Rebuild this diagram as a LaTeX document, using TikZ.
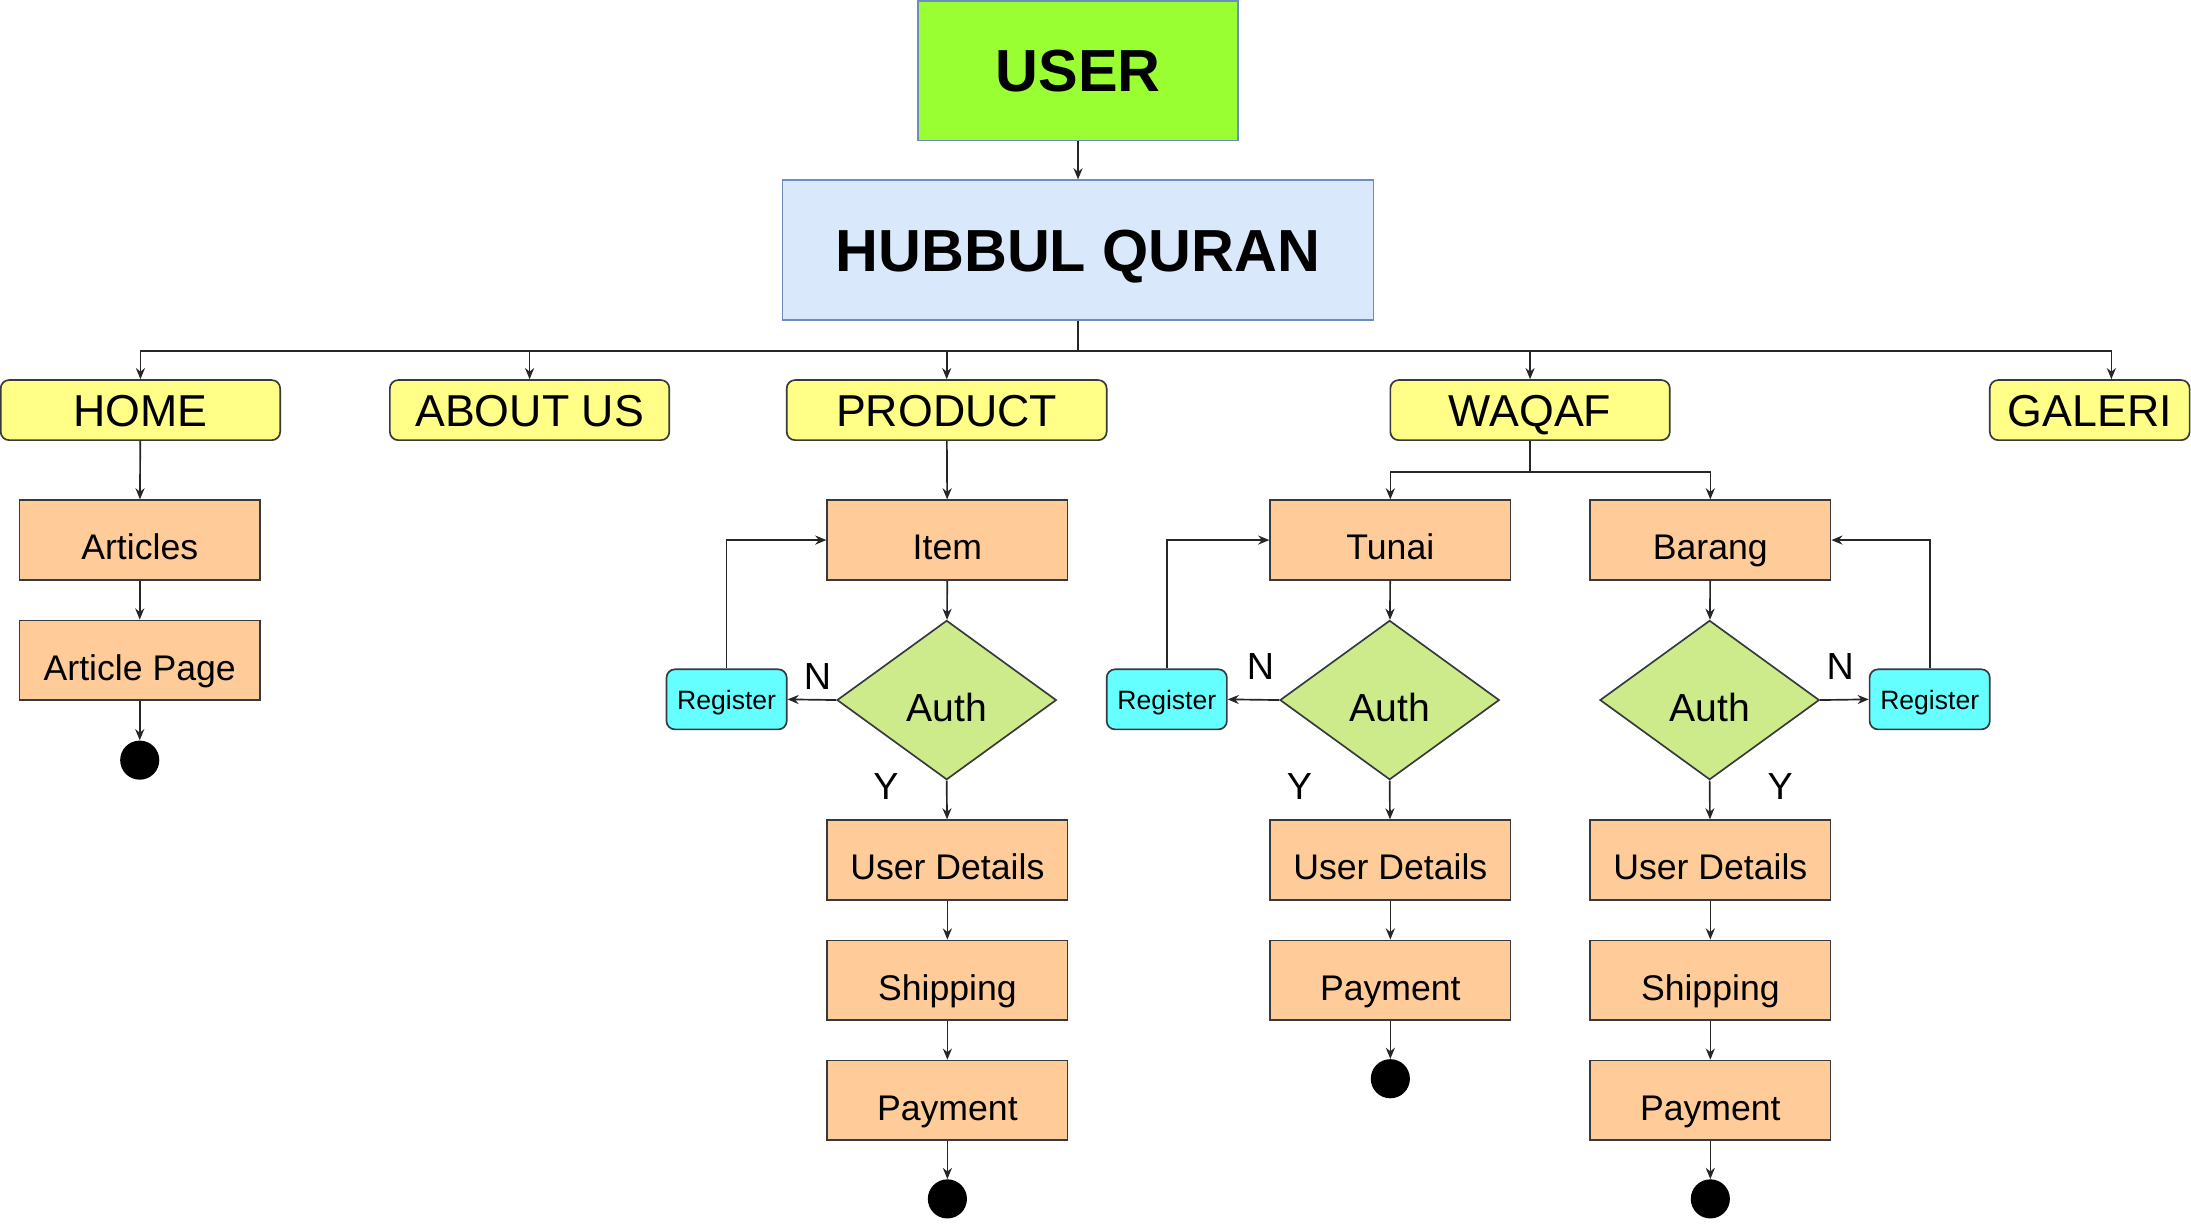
\documentclass[tikz,border=0pt]{standalone}
\usepackage{fontspec}
\setmainfont{Liberation Sans}
\usetikzlibrary{arrows.meta,shapes.geometric}
\definecolor{cgreen}{HTML}{99FF33}
\definecolor{cblue}{HTML}{DAE8FC}
\definecolor{cblueb}{HTML}{6C8EBF}
\definecolor{cyel}{HTML}{FFFF88}
\definecolor{corange}{HTML}{FFCC99}
\definecolor{cdiam}{HTML}{CDEB8B}
\definecolor{ccyan}{HTML}{66FFFF}
\definecolor{cbord}{HTML}{36393D}
\begin{document}
\begin{tikzpicture}[x=1pt,y=-1pt,
  headbox/.style={draw=cblueb,line width=1.2pt,inner sep=0pt,text height=30.4pt,text depth=0pt,font=\fontsize{42.5}{50}\selectfont\bfseries},
  topbox/.style={draw=cbord,fill=cyel,line width=1.2pt,rounded corners=6pt,inner sep=0pt,minimum width=200pt,minimum height=43pt,text height=22.9pt,text depth=0pt,font=\fontsize{32}{38}\selectfont},
  stepbox/.style={draw=cbord,fill=corange,line width=1.2pt,inner sep=0pt,minimum width=172pt,minimum height=57pt,text height=28.3pt,text depth=0pt,font=\fontsize{25.5}{30}\selectfont},
  authbox/.style={draw=cbord,fill=cdiam,line width=1.2pt,diamond,aspect=1.377,inner sep=0pt,minimum width=157pt,minimum height=114pt,text height=30pt,text depth=0pt,font=\fontsize{28}{33}\selectfont},
  regbox/.style={draw=cbord,fill=ccyan,line width=1.2pt,rounded corners=6pt,inner sep=0pt,minimum width=86pt,minimum height=43pt,text height=14.6pt,text depth=0pt,font=\fontsize{19}{23}\selectfont},
  endpt/.style={circle,fill=black,inner sep=0pt,minimum size=28pt},
  yn/.style={inner sep=0pt,font=\fontsize{27}{32}\selectfont},
  arr/.style={draw=black!85,line width=1.2pt,-{Stealth[length=8pt,width=6.5pt]}},
  ln/.style={draw=black!85,line width=1.2pt}]
\useasboundingbox (0,0) rectangle (1568,877);
% header
\node[headbox,fill=cgreen,minimum width=229pt,minimum height=100pt] (user) at (771.5,50.5) {USER};
\node[headbox,fill=cblue,minimum width=423pt,minimum height=100pt] (hq) at (771.5,179) {HUBBUL QURAN};
% top level
\node[topbox] (home) at (100.5,293.5) {HOME};
\node[topbox] (about) at (379,293.5) {ABOUT US};
\node[topbox,minimum width=229pt] (product) at (677.5,293.5) {PRODUCT};
\node[topbox] (waqaf) at (1095,293.5) {WAQAF};
\node[topbox,minimum width=143pt] (galeri) at (1495.5,293.5) {GALERI};
% home column
\node[stepbox] (articles) at (100,386.5) {Articles};
\node[stepbox] (apage) at (100,472.5) {Article Page};
\node[endpt] (end1) at (100,544) {};
% product column
\node[stepbox] (item) at (678,386.5) {Item};
\node[authbox] (auth1) at (677.5,501) {Auth};
\node[regbox] (reg1) at (520,500.5) {Register};
\node[stepbox] (ud1) at (678,615.5) {User Details};
\node[stepbox] (ship1) at (678,701.5) {Shipping};
\node[stepbox] (pay1) at (678,787.5) {Payment};
\node[endpt] (end2) at (678,858) {};
\node[yn] (n1) at (585,484) {N};
\node[yn] (y1) at (634,563) {Y};
% waqaf tunai column
\node[stepbox] (tunai) at (995,386.5) {Tunai};
\node[authbox] (auth2) at (994.5,501) {Auth};
\node[regbox] (reg2) at (835,500.5) {Register};
\node[stepbox] (ud2) at (995,615.5) {User Details};
\node[stepbox] (pay2) at (995,701.5) {Payment};
\node[endpt] (end3) at (995,772) {};
\node[yn] (n2) at (902,477) {N};
\node[yn] (y2) at (930,563) {Y};
% waqaf barang column
\node[stepbox] (barang) at (1224,386.5) {Barang};
\node[authbox] (auth3) at (1223.5,501) {Auth};
\node[regbox] (reg3) at (1381,500.5) {Register};
\node[stepbox] (ud3) at (1224,615.5) {User Details};
\node[stepbox] (ship3) at (1224,701.5) {Shipping};
\node[stepbox] (pay3) at (1224,787.5) {Payment};
\node[endpt] (end4) at (1224,858) {};
\node[yn] (n3) at (1317,477) {N};
\node[yn] (y3) at (1274,563) {Y};
% connectors
\draw[arr] (user) -- (hq);
\coordinate (bus) at (771.5,251);
\draw[ln] (hq.south) -- (bus);
\draw[arr] (bus) -| (home.north);
\draw[arr] (bus) -| (about.north);
\draw[arr] (bus) -| (product.north);
\draw[arr] (bus) -| (waqaf.north);
\draw[arr] (bus) -| ([xshift=15.5pt]galeri.north);
\draw[arr] (home) -- (articles);
\draw[arr] (articles) -- (apage);
\draw[arr] (apage) -- (end1);
\draw[arr] (product) -- (item);
\draw[arr] (item) -- (auth1);
\draw[arr] (auth1.west) -- (reg1.east);
\draw[arr] (reg1.north) |- (item.west);
\draw[arr] (auth1.south) -- (ud1);
\draw[arr] (ud1) -- (ship1);
\draw[arr] (ship1) -- (pay1);
\draw[arr] (pay1) -- (end2);
\coordinate (wq) at (1095,338);
\draw[ln] (waqaf.south) -- (wq);
\draw[arr] (wq) -| (tunai.north);
\draw[arr] (wq) -| (barang.north);
\draw[arr] (tunai) -- (auth2);
\draw[arr] (auth2.west) -- (reg2.east);
\draw[arr] (reg2.north) |- (tunai.west);
\draw[arr] (auth2.south) -- (ud2);
\draw[arr] (ud2) -- (pay2);
\draw[arr] (pay2) -- (end3);
\draw[arr] (barang) -- (auth3);
\draw[arr] (auth3.east) -- (reg3.west);
\draw[arr] (reg3.north) |- (barang.east);
\draw[arr] (auth3.south) -- (ud3);
\draw[arr] (ud3) -- (ship3);
\draw[arr] (ship3) -- (pay3);
\draw[arr] (pay3) -- (end4);
\end{tikzpicture}
\end{document}
